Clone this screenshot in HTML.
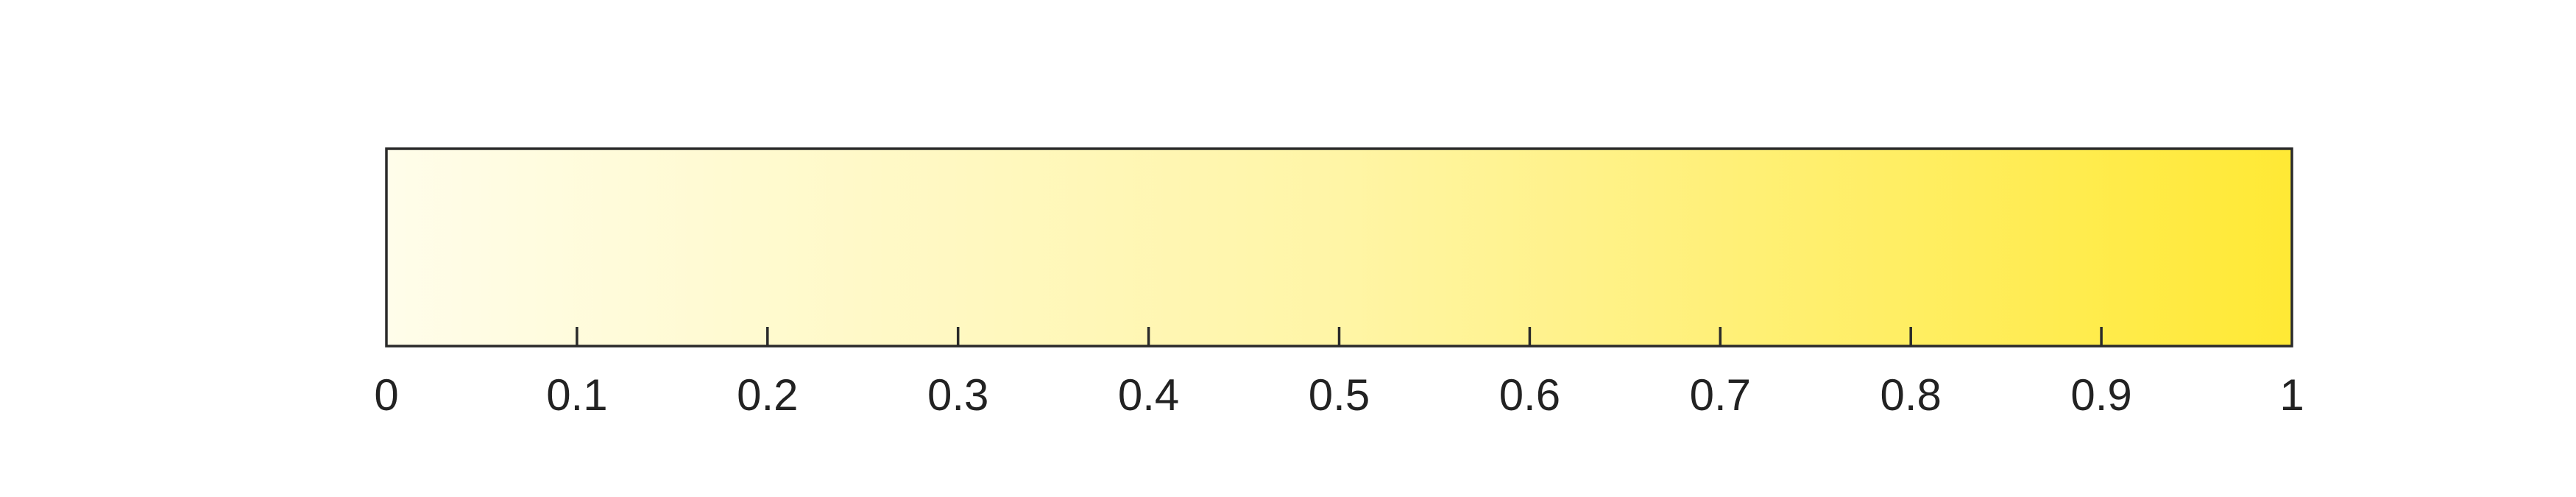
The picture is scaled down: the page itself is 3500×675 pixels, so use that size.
<!DOCTYPE html>
<html><head><meta charset="utf-8"><style>
html,body{margin:0;padding:0;background:#fff;width:3500px;height:675px;overflow:hidden}
svg text{font-family:"Liberation Sans",sans-serif;font-size:60px;fill:#222}
</style></head><body>
<svg id="chart" width="3500" height="675" xmlns="http://www.w3.org/2000/svg">
<defs><linearGradient id="grad" x1="0" x2="1" y1="0" y2="0">
<stop offset="0" stop-color="#fffdea"/>
<stop offset="0.5" stop-color="#fff5a6"/>
<stop offset="1" stop-color="#ffe935"/>
</linearGradient></defs>
<rect x="525" y="202" width="2589" height="268" fill="url(#grad)"/>
<g id="ticks"></g>
<rect x="525" y="202" width="2589" height="268" fill="none" stroke="#2a2a2a" stroke-width="3.5"/>
</svg>
<script>
const tickValues=[0,0.1,0.2,0.3,0.4,0.5,0.6,0.7,0.8,0.9,1];
const tickLabels=["0","0.1","0.2","0.3","0.4","0.5","0.6","0.7","0.8","0.9","1"];
const domain=[0,1];
const x0=525,x1=3114,yb=470;
function xs(v){return x0+(v-domain[0])/(domain[1]-domain[0])*(x1-x0);}
const g=document.getElementById('ticks');
const ns='http://www.w3.org/2000/svg';
tickValues.forEach((v,i)=>{
  const x=xs(v);
  if(i>0&&i<tickValues.length-1){
    const l=document.createElementNS(ns,'line');
    
    
    l.setAttribute('x1',x);l.setAttribute('x2',x);
    l.setAttribute('y1',yb-26);l.setAttribute('y2',yb);
    l.setAttribute('stroke','#2a2a2a');l.setAttribute('stroke-width','3.5');
    g.appendChild(l);
  }
  const t=document.createElementNS(ns,'text');
  
  
  t.setAttribute('x',x);t.setAttribute('y',557);
  t.setAttribute('text-anchor','middle');
  t.textContent=tickLabels[i];
  document.getElementById('chart').appendChild(t);
});
</script>
</body></html>
